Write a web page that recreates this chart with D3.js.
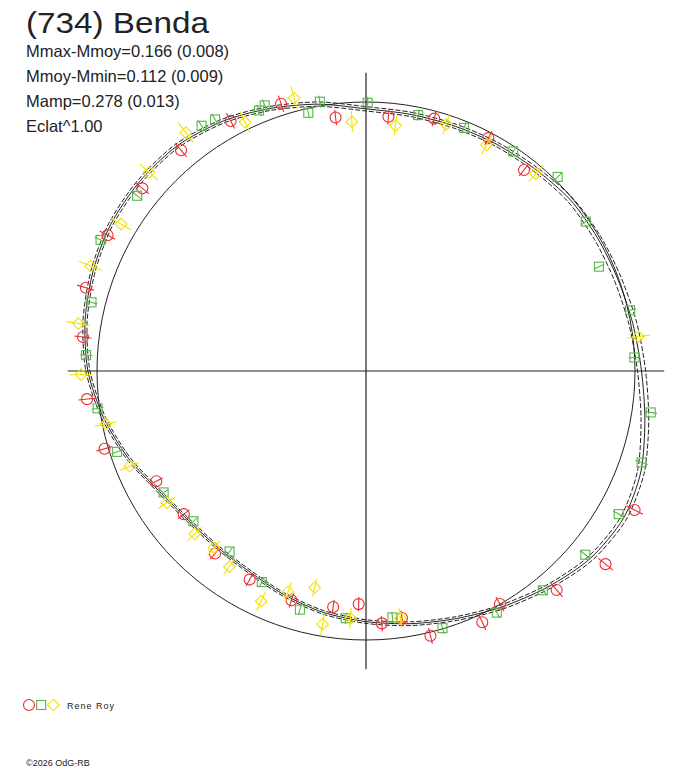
<!DOCTYPE html>
<html>
<head>
<meta charset="utf-8">
<script src="https://cdn.jsdelivr.net/npm/d3@7"></script>
<style>
  body { margin: 0; background: #fff; }
  text { font-family: "Liberation Sans", Arial, sans-serif; fill: #222; }
</style>
</head>
<body>
<div id="chart"></div>
<script>
// header texts
var title = "(734) Benda";
var infoLines = ["Mmax-Mmoy=0.166 (0.008)", "Mmoy-Mmin=0.112 (0.009)", "Mamp=0.278 (0.013)", "Eclat^1.00"];
var observer = "Rene Roy";
var credit = "\u00a92026 OdG-RB";

// fitted light curve (phase, mag relative to Mmoy) and its 1-sigma band
var fitPhase = [0, .028, .056, .083, .111, .139, .167, .194, .222, .250, .278, .306,
                .333, .361, .389, .417, .444, .472, .500, .528, .556, .583, .611, .639,
                .667, .694, .722, .750, .778, .806, .833, .861, .889, .917, .944, .972];
var fitMag = [0.028, 0.035, 0.035, 0.030, 0.023, 0.010, 0.008, 0.004, -0.008, -0.026, -0.056, -0.092,
              -0.106, -0.090, -0.052, -0.013, 0.022, 0.051, 0.077, 0.101, 0.132, 0.160, 0.168, 0.160,
              0.126, 0.066, 0.010, -0.036, -0.064, -0.084, -0.098, -0.101, -0.096, -0.074, -0.042, -0.008];
var fitSig = [0.009, 0.009, 0.009, 0.009, 0.010, 0.012, 0.014, 0.015, 0.016, 0.016, 0.015, 0.013,
              0.011, 0.010, 0.009, 0.009, 0.008, 0.008, 0.008, 0.008, 0.008, 0.008, 0.008, 0.008,
              0.008, 0.008, 0.008, 0.008, 0.008, 0.008, 0.008, 0.008, 0.008, 0.008, 0.008, 0.009];

// session 1 (red circles)
var redPhase = [.889, .921, .951, .981, .014, .042, .077, .106, .326, .358, .386, .417, .431, .462, .477,
                .490, .505, .522, .550, .581, .610, .644, .673, .704, .734, .769, .796, .827, .859];
var redMag = [-0.074, -0.060, -0.045, 0.057, 0.057, 0.031, 0.024, 0.055, -0.127, -0.146, -0.083, 0.001, -0.031, -0.014, 0.081,
              0.067, 0.155, 0.132, 0.119, 0.129, 0.138, 0.162, 0.138, -0.015, -0.045, -0.063, -0.090, -0.089, -0.077];

// session 2 (green squares)
var greenPhase = [.001, .032, .061, .094, .124, .155, .183, .214, .242, .273, .301, .332, .361, .392, .421, .454, .483, .513,
                  .543, .573, .603, .636, .664, .700, .728, .759, .789, .823, .854, .906, .914, .938, .942, .965, .973];
var greenMag = [0.003, 0.032, 0.028, 0.019, -0.015, 0.013, 0.057, -0.008, 0.001, -0.073, -0.083, -0.083, -0.067, -0.050, -0.023, 0.003, 0.089, 0.088,
                0.090, 0.145, 0.188, 0.176, 0.142, 0.030, -0.008, -0.045, -0.055, -0.104, -0.075, -0.101, -0.094, -0.050, -0.060, 0.018, -0.017];

// session 3 (yellow diamonds)
var yellowPhase = [.748, .776, .808, .836, .868, .897, .928, .959, .991, .019, .050, .078, .113, .230,
                   .478, .510, .527, .537, .554, .568, .597, .613, .629, .657, .689, .718];
var yellowMag = [-0.063, -0.087, -0.099, -0.065, -0.097, -0.114, -0.031, -0.052, 0.081, 0.092, 0.040, 0.053, 0.036, -0.022,
                 0.081, 0.089, 0.050, 0.206, 0.151, 0.067, 0.130, 0.155, 0.140, 0.130, 0.059, 0.014];

var series = [
  { phase: redPhase, mag: redMag, err: 0.033, color: "#ee2a2f", shape: "circle" },
  { phase: greenPhase, mag: greenMag, err: 0.024, color: "#58b548", shape: "square" },
  { phase: yellowPhase, mag: yellowMag, err: 0.045, color: "#f2e200", shape: "diamond" }
];

var w = 688, h = 768;
var cx = 366, cy = 371;
var axisMag = -0.112;   // brightest level bounds the axes

// radius is proportional to flux
var rScale = d3.scaleLinear().domain([0, 1]).range([0, 269]);
function flux(m) { return Math.pow(10, -0.4 * m); }
function rad(m) { return rScale(flux(m)); }
function ang(p) { return p * 2 * Math.PI; }

var svg = d3.select("#chart").append("svg")
  .attr("width", w)
  .attr("height", h);

svg.append("rect").attr("width", w).attr("height", h).attr("fill", "#fff");

svg.append("text")
  .attr("x", 26).attr("y", 33)
  .attr("textLength", 183).attr("lengthAdjust", "spacingAndGlyphs")
  .style("font-size", "30px")
  .text(title);

svg.selectAll("text.info")
  .data(infoLines)
  .enter()
  .append("text")
  .attr("class", "info")
  .attr("x", 26)
  .attr("y", function(d, i) { return 57 + i * 25; })
  .style("font-size", "16.5px")
  .text(function(d) { return d; });

var g = svg.append("g").attr("transform", "translate(" + cx + "," + cy + ")");

// axes
var ax = rad(axisMag);
g.append("line").attr("x1", -ax).attr("x2", ax).attr("y1", 0).attr("y2", 0)
  .style("stroke", "#222").style("stroke-width", 1.2);
g.append("line").attr("y1", -ax).attr("y2", ax).attr("x1", 0).attr("x2", 0)
  .style("stroke", "#222").style("stroke-width", 1.2);

// mean level
g.append("circle").attr("r", rad(0))
  .style("fill", "none").style("stroke", "#222").style("stroke-width", 1);

// fitted curve and band
var fitPts = fitPhase.map(function(p, i) { return { p: p, m: fitMag[i], s: fitSig[i] }; });
var radial = d3.lineRadial()
  .angle(function(d) { return ang(d.p); })
  .curve(d3.curveCardinalClosed.tension(0.2));

g.append("path")
  .attr("d", radial.radius(function(d) { return rad(d.m - d.s); })(fitPts))
  .style("fill", "none").style("stroke", "#222").style("stroke-width", 1)
  .style("stroke-dasharray", "5,2");
g.append("path")
  .attr("d", radial.radius(function(d) { return rad(d.m + d.s); })(fitPts))
  .style("fill", "none").style("stroke", "#222").style("stroke-width", 1)
  .style("stroke-dasharray", "5,2");
g.append("path")
  .attr("d", radial.radius(function(d) { return rad(d.m); })(fitPts))
  .style("fill", "none").style("stroke", "#222").style("stroke-width", 1);

function drawSymbol(sel, shape, color) {
  if (shape === "circle") {
    sel.append("circle").attr("r", 5.5);
  } else if (shape === "square") {
    sel.append("rect").attr("x", -4.5).attr("y", -4.5).attr("width", 9).attr("height", 9);
  } else {
    sel.append("path").attr("d", "M0,-5.8L5.8,0L0,5.8L-5.8,0Z");
  }
  sel.selectAll("circle,rect,path")
    .style("fill", "none").style("stroke", color).style("stroke-width", 1.1);
}

series.forEach(function(s) {
  var pts = s.phase.map(function(p, i) { return { p: p, m: s.mag[i] }; });
  var grp = g.append("g");

  // radial error bars
  grp.selectAll("line")
    .data(pts)
    .enter()
    .append("line")
    .each(function(d) {
      var a = d3.pointRadial(ang(d.p), rad(d.m - s.err));
      var b = d3.pointRadial(ang(d.p), rad(d.m + s.err));
      d3.select(this).attr("x1", a[0]).attr("y1", a[1]).attr("x2", b[0]).attr("y2", b[1]);
    })
    .style("stroke", s.color).style("stroke-width", 1.1);

  var marks = grp.selectAll("g.mark")
    .data(pts)
    .enter()
    .append("g")
    .attr("class", "mark")
    .attr("transform", function(d) {
      var c = d3.pointRadial(ang(d.p), rad(d.m));
      return "translate(" + c[0] + "," + c[1] + ")";
    });
  drawSymbol(marks, s.shape, s.color);
});

// legend
var leg = svg.append("g").attr("transform", "translate(29,705)");
series.forEach(function(s, i) {
  var item = leg.append("g").attr("transform", "translate(" + (i * 12.2) + ",0)");
  drawSymbol(item, s.shape, s.color);
});
leg.append("text")
  .attr("x", 38).attr("y", 3.5)
  .style("font-size", "9px").style("letter-spacing", "1px")
  .text(observer);

svg.append("text")
  .attr("x", 26).attr("y", 766)
  .style("font-size", "9px")
  .text(credit);
</script>
</body>
</html>
